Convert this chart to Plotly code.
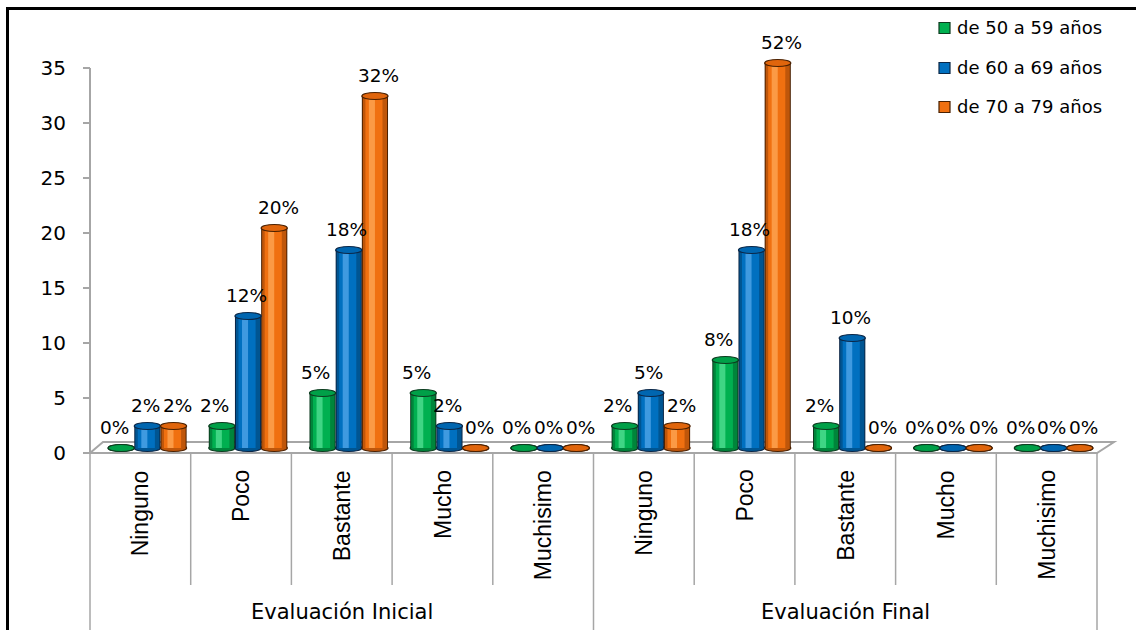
import plotly.graph_objects as go

# ---- data -------------------------------------------------------------
niveles = ["Ninguno", "Poco", "Bastante", "Mucho", "Muchisimo"]
evaluaciones = ["Evaluación Inicial", "Evaluación Final"]
series = ["de 50 a 59 años", "de 60 a 69 años", "de 70 a 79 años"]

# counts per level (Inicial followed by Final)
edad_50_59 = [0, 2, 5, 5, 0, 2, 8, 2, 0, 0]
edad_60_69 = [2, 12, 18, 2, 0, 5, 18, 10, 0, 0]
edad_70_79 = [2, 20, 32, 0, 0, 2, 35, 0, 0, 0]

# percentage labels shown above each cylinder
pct_50_59 = ["0%", "2%", "5%", "5%", "0%", "2%", "8%", "2%", "0%", "0%"]
pct_60_69 = ["2%", "12%", "18%", "2%", "0%", "5%", "18%", "10%", "0%", "0%"]
pct_70_79 = ["2%", "20%", "32%", "0%", "0%", "2%", "52%", "0%", "0%", "0%"]

y_ticks = [0, 5, 10, 15, 20, 25, 30, 35]

# ---- geometry / style -------------------------------------------------
W, H = 1136, 630
PX_X = 100.7          # pixels per category
PX_Y = 11.0           # pixels per unit
LEFT_PX = 90          # left edge of the category band
ZERO_PX = 453         # vertical pixel of value 0

xr = [-0.5 - LEFT_PX / PX_X, -0.5 + (W - LEFT_PX) / PX_X]
yr = [-(H - ZERO_PX) / PX_Y, ZERO_PX / PX_Y]
# depth shift of the cylinders (3D look): right and up
DX, DY = 7 / PX_X, 5 / PX_Y
xr2 = [xr[0] - DX, xr[1] - DX]
yr2 = [yr[0] - DY, yr[1] - DY]

BAR_W = 0.26
offsets = [-0.39, -0.13, 0.13]
label_shift = [-7, -2, 4]
palette = [
    # outline, shade, main, light, cap
    dict(out="#0d3b1f", shade="#00853b", main="#00b050", light="#3fd584", cap="#00a048"),
    dict(out="#0b2747", shade="#005592", main="#0070c0", light="#3f9ae0", cap="#0066b0"),
    dict(out="#4a2000", shade="#bf560a", main="#f07010", light="#fb9a45", cap="#e0650c"),
]
GREY = "#a6a6a6"
FONT_H = "DejaVu Sans"
FONT_V = "Liberation Sans, Arial"

data = [edad_50_59, edad_60_69, edad_70_79]
labels = [pct_50_59, pct_60_69, pct_70_79]
idx = list(range(len(edad_50_59)))

fig = go.Figure()
shapes = []
annotations = []

for s, (vals, col, off) in enumerate(zip(data, palette, offsets)):
    # body layers of the cylinder: outline, shade, main colour, highlight
    layers = [
        (col["out"], BAR_W, 0.0),
        (col["shade"], BAR_W - 0.02, 0.01),
        (col["main"], 0.17, 0.035),
        (col["light"], 0.06, 0.07),
    ]
    for color, w, extra in layers:
        fig.add_trace(go.Bar(
            x=idx, y=vals, width=w, offset=off + extra,
            marker=dict(color=color, line=dict(width=0)),
            xaxis="x2", yaxis="y2", showlegend=False, hoverinfo="skip",
        ))
    for i, v in enumerate(vals):
        x0, x1 = i + off, i + off + BAR_W
        # rounded bottom
        shapes.append(dict(type="circle", xref="x2", yref="y2", layer="below",
                           x0=x0, x1=x1, y0=-0.32, y1=0.32,
                           fillcolor=col["shade"], line=dict(color=col["out"], width=1.2)))
        # top cap
        shapes.append(dict(type="circle", xref="x2", yref="y2", layer="above",
                           x0=x0, x1=x1, y0=v - 0.32, y1=v + 0.32,
                           fillcolor=col["cap"], line=dict(color=col["out"], width=1.2)))
        annotations.append(dict(x=i + off + BAR_W / 2, y=v, xref="x2", yref="y2",
                                text=labels[s][i], showarrow=False, yshift=21,
                                xshift=label_shift[s],
                                font=dict(family=FONT_H, size=18.5, color="black")))

# floor of the 3D plot
shapes.insert(0, dict(type="path", xref="x", yref="y", layer="below",
                      path=f"M -0.5,0 L {-0.5 + 13 / PX_X},1 L {9.5 + 17 / PX_X},1 L 9.5,0 Z",
                      fillcolor="white", line=dict(color=GREY, width=2)))
# value axis line
shapes.append(dict(type="line", xref="x", yref="y", x0=-0.5, x1=-0.5, y0=0, y1=35,
                   line=dict(color=GREY, width=2), layer="below"))

# category dividers
ytop = (H - ZERO_PX) / H
for k in range(len(idx) + 1):
    bottom = 0 if k % 5 == 0 else (H - 585) / H
    shapes.append(dict(type="line", xref="x", yref="paper", x0=k - 0.5, x1=k - 0.5,
                       y0=bottom, y1=ytop, line=dict(color=GREY, width=1.5)))

# category labels (rotated)
cat_labels = niveles + niveles
for i, name in enumerate(cat_labels):
    annotations.append(dict(x=i, y=(H - 468) / H, xref="x", yref="paper",
                            text=name, textangle=-90, showarrow=False,
                            xanchor="center", yanchor="top",
                            font=dict(family=FONT_V, size=23, color="black")))
for g, name in enumerate(evaluaciones):
    annotations.append(dict(x=g * 5 + 2, y=(H - 612) / H, xref="x", yref="paper",
                            text=name, showarrow=False, xanchor="center", yanchor="middle",
                            font=dict(family=FONT_H, size=21, color="black")))

# legend
leg_y = [28, 68, 107]
for s, name in enumerate(series):
    yc = leg_y[s]
    shapes.append(dict(type="rect", xref="paper", yref="paper",
                       x0=939 / W, x1=950 / W, y0=(H - yc - 5.5) / H, y1=(H - yc + 5.5) / H,
                       fillcolor=palette[s]["main"], line=dict(color=palette[s]["out"], width=1.2)))
    annotations.append(dict(x=955 / W, y=(H - yc) / H, xref="paper", yref="paper",
                            text=name, showarrow=False, xanchor="left", yanchor="middle",
                            font=dict(family=FONT_H, size=18, color="black")))

# outer frame (top and left edges)
shapes.append(dict(type="line", xref="paper", yref="paper", x0=6 / W, x1=1, y0=(H - 8.5) / H,
                   y1=(H - 8.5) / H, line=dict(color="black", width=3)))
shapes.append(dict(type="line", xref="paper", yref="paper", x0=7.5 / W, x1=7.5 / W,
                   y0=0, y1=(H - 7) / H, line=dict(color="black", width=3)))

fig.update_layout(
    width=W, height=H, margin=dict(l=0, r=0, t=0, b=0),
    paper_bgcolor="white", plot_bgcolor="rgba(0,0,0,0)",
    barmode="overlay", showlegend=False,
    xaxis=dict(domain=[0, 1], range=xr, visible=False, fixedrange=True),
    yaxis=dict(domain=[0, 1], range=yr, anchor="free", position=LEFT_PX / W,
               tickvals=y_ticks, ticktext=[str(t) for t in y_ticks],
               showgrid=False, zeroline=False, showline=False,
               ticks="outside", ticklen=7, tickwidth=2, tickcolor=GREY,
               ticklabelstandoff=13,
               tickfont=dict(family=FONT_H, size=20, color="black")),
    xaxis2=dict(domain=[0, 1], range=xr2, overlaying="x", visible=False),
    yaxis2=dict(domain=[0, 1], range=yr2, overlaying="y", visible=False),
    shapes=shapes, annotations=annotations,
)

fig.write_html("out.html")
